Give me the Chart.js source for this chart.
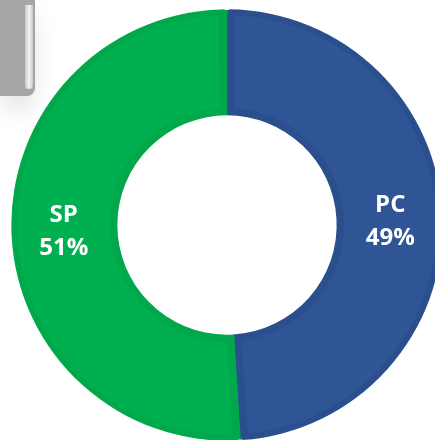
<!DOCTYPE html>
<html>
<head>
<meta charset="utf-8">
<script src="https://cdn.jsdelivr.net/npm/chart.js@4"></script>
<style>
  html, body { margin: 0; padding: 0; background: #fff; overflow: hidden; width: 435px; height: 440px; }
  #wrap { position: absolute; left: 11px; top: 9px; width: 432px; height: 432px; }
  #tab { position: absolute; left: 0; top: 0; width: 35px; height: 96px; background: #a6a6a6;
         border-bottom-right-radius: 8px; box-shadow: 0 14px 22px rgba(0,0,0,0.10); z-index: 2; }
  #tab span { position: absolute; left: 25px; top: 5px; width: 8px; height: 84px; border-radius: 0 0 5px 5px;
              background: linear-gradient(to right, #c8c8c8, #f4f4f4 50%, #c8c8c8); }
</style>
</head>
<body>
<div id="tab"><span></span></div>
<div id="wrap"><canvas id="myChart"></canvas></div>
<script>
const categories = ["PC", "SP"];
const shares = [49, 51];
const sliceColors = ["#2f5597", "#00b050"];
const rimColors = ["#2b4f8d", "#00a74b"];

// white two-line labels in the middle of each ring slice
const sliceLabels = {
  id: "sliceLabels",
  afterDatasetsDraw(chart) {
    const c = chart.ctx;
    const meta = chart.getDatasetMeta(0);
    c.save();
    c.fillStyle = "#ffffff";
    c.font = "bold 24px 'Open Sans'";
    c.textAlign = "center";
    c.textBaseline = "middle";
    meta.data.forEach(function (arc, i) {
      const p = arc.getCenterPoint();
      c.fillText(categories[i], p.x, p.y - 15);
      c.fillText(shares[i] + "%", p.x, p.y + 18);
    });
    c.restore();
  }
};

var ctx = document.getElementById("myChart").getContext("2d");
const chart = new Chart(ctx, {
  type: "doughnut",
  data: {
    labels: categories,
    datasets: [{
      data: shares,
      backgroundColor: sliceColors,
      borderColor: rimColors,
      borderWidth: 6,
      borderAlign: "inner",
      spacing: 2
    }]
  },
  options: {
    responsive: true,
    maintainAspectRatio: false,
    animation: false,
    cutout: "51%",
    layout: { padding: 0 },
    plugins: {
      legend: { display: false },
      tooltip: { enabled: false }
    }
  },
  plugins: [sliceLabels]
});
</script>
</body>
</html>
